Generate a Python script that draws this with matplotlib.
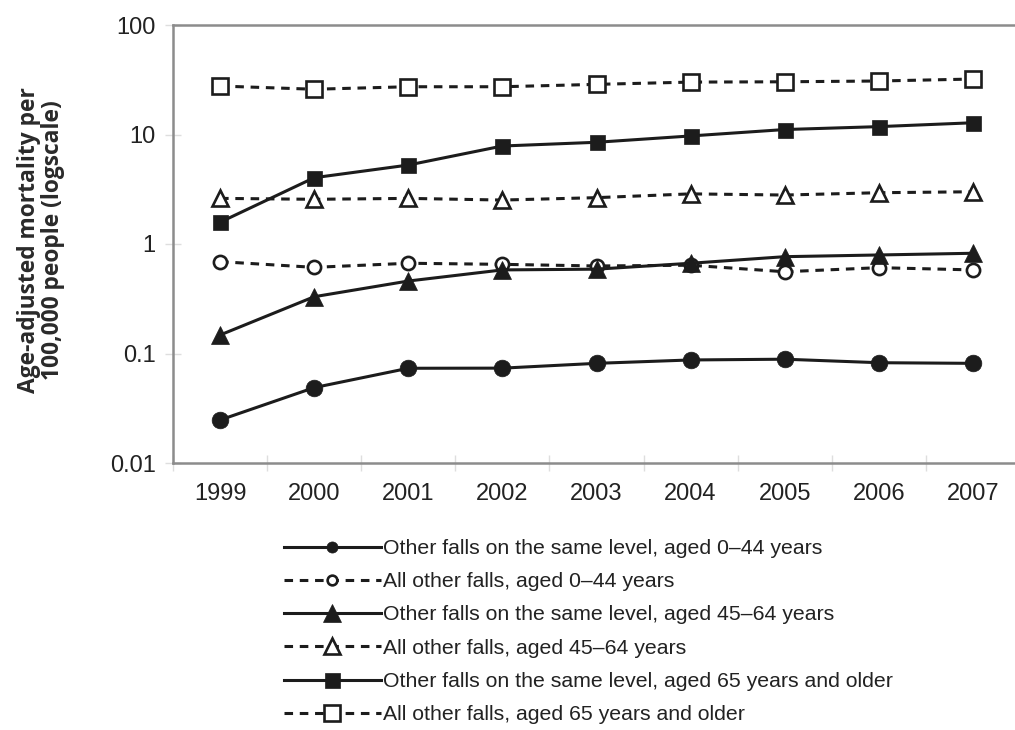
import matplotlib
matplotlib.use("Agg")
import matplotlib.pyplot as plt
from matplotlib.ticker import FixedLocator, FixedFormatter

years = ["1999", "2000", "2001", "2002", "2003", "2004", "2005", "2006", "2007"]

same_0_44 = [0.0247, 0.0488, 0.0733, 0.0735, 0.0813, 0.0873, 0.0887, 0.0824, 0.0813]
all_0_44 = [0.690, 0.612, 0.667, 0.652, 0.630, 0.640, 0.558, 0.608, 0.580]
same_45_64 = [0.1475, 0.330, 0.459, 0.580, 0.589, 0.667, 0.766, 0.794, 0.823]
all_45_64 = [2.61, 2.56, 2.61, 2.52, 2.65, 2.87, 2.80, 2.94, 3.00]
same_65 = [1.58, 4.03, 5.26, 7.85, 8.49, 9.7, 11.1, 11.8, 12.8]
all_65 = [27.7, 25.9, 27.3, 27.3, 28.7, 30.1, 30.3, 30.8, 32.1]

labels = [
    "Other falls on the same level, aged 0\u201344 years",
    "All other falls, aged 0\u201344 years",
    "Other falls on the same level, aged 45\u201364 years",
    "All other falls, aged 45\u201364 years",
    "Other falls on the same level, aged 65 years and older",
    "All other falls, aged 65 years and older",
]

yticks = [0.01, 0.1, 1, 10, 100]
yticklabels = ["0.01", "0.1", "1", "10", "100"]

INK = "#1c1c1c"
SPINE = "#8c8c8c"
TICK = "#dedede"

plt.rcParams["font.family"] = ["Liberation Sans", "DejaVu Sans"]

fig = plt.figure(figsize=(10.15, 7.30), dpi=100)
ax = fig.add_axes([173 / 1015, 1 - 463 / 730, 847 / 1015, 438 / 730])

x = list(range(len(years)))
lw = 2.2
dash = (2.8, 2.2)

series = [
    (same_0_44, "o", True, 12, "-"),
    (all_0_44, "o", False, 9.5, "--"),
    (same_45_64, "^", True, 13, "-"),
    (all_45_64, "^", False, 11, "--"),
    (same_65, "s", True, 10.8, "-"),
    (all_65, "s", False, 11, "--"),
]

lines = []
for (vals, mk, filled, ms, ls), lab in zip(series, labels):
    kw = dict(color=INK, lw=lw, marker=mk, markersize=ms, label=lab,
              markeredgecolor=INK, clip_on=False)
    if filled:
        kw.update(markerfacecolor=INK, markeredgewidth=0.5)
    else:
        kw.update(markerfacecolor="white", markeredgewidth=1.9)
    (ln,) = ax.plot(x, vals, linestyle="-", **kw)
    if ls == "--":
        ln.set_dashes(dash)
    lines.append(ln)

ax.set_yscale("log")
ax.set_ylim(0.01, 100)
ax.set_xlim(-0.5, len(years) - 0.5)

ax.yaxis.set_major_locator(FixedLocator(yticks))
ax.yaxis.set_major_formatter(FixedFormatter(yticklabels))
ax.yaxis.set_minor_locator(FixedLocator([]))
ax.set_xticks(x)
ax.set_xticklabels(years)
ax.set_xticks([i - 0.5 for i in range(len(years) + 1)], minor=True)

ax.tick_params(axis="x", which="major", length=0, pad=14.5, labelsize=17, labelcolor="#222222")
ax.tick_params(axis="x", which="minor", length=11, width=1.0, direction="inout", color=TICK)
ax.tick_params(axis="y", which="major", length=11, width=1.0, direction="inout", color=TICK,
               pad=7, labelsize=17, labelcolor="#222222")

for side in ["left", "bottom", "top"]:
    ax.spines[side].set_color(SPINE)
    ax.spines[side].set_linewidth(1.8)
ax.spines["right"].set_visible(False)

ax.set_ylabel("Age-adjusted mortality per\n100,000 people (logscale)",
              fontsize=16.4, fontweight="bold", family=["Open Sans", "DejaVu Sans"],
              color="#2a2a2a", linespacing=1.0)
ax.yaxis.label.set_va("center")
ax.yaxis.set_label_coords((41 - 173) / 847, 0.509)

leg = fig.legend(handles=lines, labels=labels, loc="upper left",
                 bbox_to_anchor=(284 / 1015, 1 - 539 / 730),
                 frameon=False, fontsize=15.3, handlelength=4.55,
                 handletextpad=0.1, labelspacing=0.67, borderpad=0,
                 borderaxespad=0)
for t in leg.get_texts():
    t.set_color("#222222")
for h, (vals, mk, filled, ms, ls) in zip(leg.legend_handles, series):
    if mk == "o":
        h.set_markersize(8 if filled else 7)

fig.savefig("out.png", dpi=100)
